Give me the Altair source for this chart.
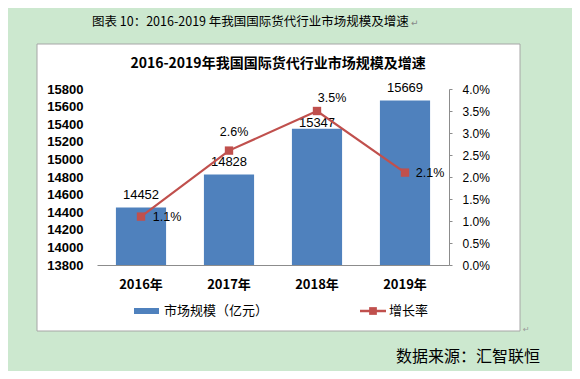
import altair as alt
import pandas as pd

years = ["2016年", "2017年", "2018年", "2019年"]
market = [14452, 14828, 15347, 15669]
growth_pct = [1.1, 2.6, 3.5, 2.1]
left_ticks = [13800, 14000, 14200, 14400, 14600, 14800, 15000, 15200, 15400, 15600, 15800]
right_ticks = [0.0, 0.005, 0.01, 0.015, 0.02, 0.025, 0.03, 0.035, 0.04]

df = pd.DataFrame({"year": years, "market": market,
                   "growth": [g / 100 for g in growth_pct]})
one = pd.DataFrame({"k": [0]})

BLUE = "#4F81BD"
RED = "#C0504D"
CJK = "Noto Sans CJK SC"
NUM = "Liberation Sans"

x_axis = alt.Axis(title=None, labelAngle=0, ticks=False, domain=True,
                  domainColor="#8C8C8C", labelFont=CJK, labelFontWeight="bold",
                  labelFontSize=13, labelColor="#000", labelPadding=13, zindex=1)
x_scale = alt.Scale(paddingInner=0.43, paddingOuter=0.215)
x_enc = alt.X("year:N", sort=years, scale=x_scale, axis=x_axis)

yl = alt.Scale(domain=[13800, 15800], nice=False, zero=False)
yr = alt.Scale(domain=[0, 0.04], nice=False, zero=True)
yl_axis = alt.Axis(orient="left", title=None, values=left_ticks, format="d",
                   domain=False, ticks=False, grid=False, labelFont=NUM,
                   labelFontWeight="bold", labelFontSize=13, labelColor="#000",
                   labelPadding=14, labelOverlap=False, labelFlush=False, zindex=1)
yr_axis = alt.Axis(orient="right", title=None, values=right_ticks, format=".1%",
                   domain=True, domainColor="#8C8C8C", ticks=True, tickSize=3,
                   tickColor="#8C8C8C", grid=False, labelFont=NUM,
                   labelFontSize=12, labelColor="#000", labelPadding=10,
                   labelOverlap=False, labelFlush=False, zindex=1)
yl_enc = alt.Y("market:Q", scale=yl, axis=yl_axis)
yr_enc = alt.Y("growth:Q", scale=yr, axis=yr_axis)

bars = alt.Chart(df).mark_bar(color=BLUE).encode(
    x=x_enc, y=yl_enc, y2=alt.datum(13800))

bar_offsets = {"2016年": -13, "2017年": -13, "2018年": -6, "2019年": -13}
bar_labels = [
    alt.Chart(df).transform_filter(alt.datum.year == yv).mark_text(
        font=NUM, fontSize=13, color="#000", baseline="middle", dy=dy
    ).encode(x=x_enc, y=yl_enc, text=alt.Text("market:Q", format="d"))
    for yv, dy in bar_offsets.items()
]
left_layer = alt.layer(bars, *bar_labels)

line = alt.Chart(df).mark_line(color=RED, strokeWidth=2.2).encode(x=x_enc, y=yr_enc)
pts = alt.Chart(df).mark_point(shape="square", filled=True, color=RED, size=70, opacity=1).encode(
    x=x_enc, y=yr_enc)

line_offsets = {"2016年": (26, 0), "2017年": (5, -19), "2018年": (15, -13), "2019年": (25, 0)}
line_labels = [
    alt.Chart(df).transform_filter(alt.datum.year == yv).mark_text(
        font=NUM, fontSize=12.5, color="#000", baseline="middle", dx=dx, dy=dy
    ).encode(x=x_enc, y=yr_enc, text=alt.Text("growth:Q", format=".1%"))
    for yv, (dx, dy) in line_offsets.items()
]
right_layer = alt.layer(line, pts, *line_labels)

box = alt.Chart(one).mark_rect(fill="white", stroke="#A6A6A6", strokeWidth=1).encode(
    x=alt.value(-60), x2=alt.value(423), y=alt.value(-45), y2=alt.value(242))

def txt(s, x, y, size, align="left", weight="normal", font=CJK, color="#000"):
    return alt.Chart(one).mark_text(align=align, baseline="middle", fontSize=size,
                                    fontWeight=weight, font=font, color=color).encode(
        x=alt.value(x), y=alt.value(y), text=alt.value(s))

top_title = txt("图表  10：2016-2019 年我国国际货代行业市场规模及增速", -5, -67, 12.5)
top_ret = txt("↵", 314, -66, 9, font="DejaVu Sans", color="#888")
chart_title = txt("2016-2019年我国国际货代行业市场规模及增速", 181, -25, 14, align="center", weight="bold")
box_ret = txt("↵", 426, 241, 8, font="DejaVu Sans", color="#999")
source = txt("数据来源：汇智联恒", 443, 268, 16, align="right")

leg_rect = alt.Chart(one).mark_rect(fill=BLUE).encode(
    x=alt.value(37), x2=alt.value(62), y=alt.value(219), y2=alt.value(225))
leg_text1 = txt("市场规模（亿元）", 67, 222, 13)
leg_rule = alt.Chart(one).mark_rule(color=RED, strokeWidth=2.5).encode(
    x=alt.value(263), x2=alt.value(289), y=alt.value(222))
leg_pt = alt.Chart(one).mark_point(shape="square", filled=True, color=RED, size=60, opacity=1).encode(
    x=alt.value(276), y=alt.value(222))
leg_text2 = txt("增长率", 292, 222, 13)

main = alt.layer(left_layer, right_layer).resolve_scale(y="independent")

chart = alt.layer(
    box, main, top_title, top_ret, chart_title, box_ret, source,
    leg_rect, leg_text1, leg_rule, leg_pt, leg_text2
).properties(
    width=352, height=176,
    padding={"left": 89, "top": 81, "right": 123, "bottom": 106},
    autosize=alt.AutoSizeParams(type="none"),
    background="#CCE8CF",
).configure_view(stroke=None).configure_axis(labelOverlap=False)

chart.save("out.html", embed_options={"renderer": "svg", "actions": False})
